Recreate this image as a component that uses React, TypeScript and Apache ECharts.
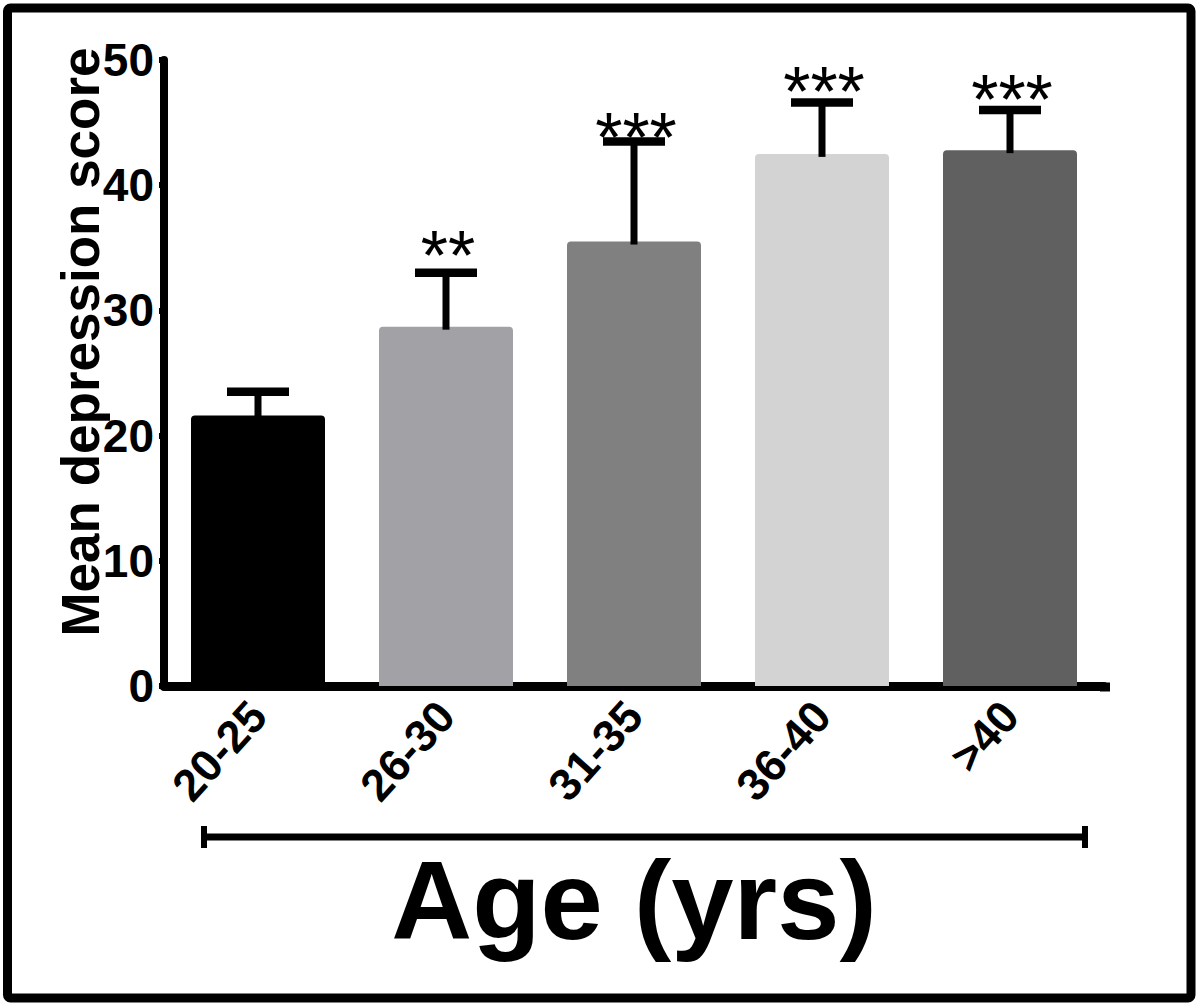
import React, { useEffect, useRef } from "react";
import * as echarts from "echarts";

const categories = ["20-25", "26-30", "31-35", "36-40", ">40"];
const meanScores = [21.6, 28.7, 35.5, 42.5, 42.8];
const errorUpper = [1.9, 4.3, 8.0, 4.1, 3.2];
const significance = ["", "**", "***", "***", "***"];
const starLevels = [0, 34.9, 44.3, 48.0, 47.4];
const barColors = ["#000000", "#a2a1a6", "#808080", "#d3d3d3", "#606060"];
const yMin = 0;
const yMax = 50;
const yStep = 10;

const FONT = '"Liberation Sans", Arial, Helvetica, sans-serif';

export default function App() {
  const ref = useRef<HTMLDivElement>(null);

  useEffect(() => {
    if (!ref.current) return;
    const chart = echarts.init(ref.current, undefined, { renderer: "svg" });

    const errData = categories.map((_, i) => [i, meanScores[i], meanScores[i] + errorUpper[i], starLevels[i]]);
    const starFont = 70;

    const option: any = {
      animation: false,
      backgroundColor: "#ffffff",
      grid: { left: 164, top: 60, width: 940, height: 626, containLabel: false },
      xAxis: {
        type: "category",
        data: categories,
        boundaryGap: true,
        axisLine: { show: true, lineStyle: { color: "#000", width: 9 } },
        axisTick: { show: true, alignWithLabel: true, length: 5, lineStyle: { color: "#000", width: 7 } },
        axisLabel: {
          rotate: 48,
          margin: 22,
          color: "#000",
          fontSize: 45,
          fontWeight: "bold",
          fontFamily: FONT,
        },
        splitLine: { show: false },
      },
      yAxis: {
        type: "value",
        min: yMin,
        max: yMax,
        interval: yStep,
        axisLine: { show: true, lineStyle: { color: "#000", width: 8 } },
        axisTick: { show: true, length: 5, lineStyle: { color: "#000", width: 6 } },
        axisLabel: {
          margin: 10,
          color: "#000",
          fontSize: 46,
          fontWeight: "bold",
          fontFamily: FONT,
        },
        splitLine: { show: false },
      },
      series: [
        {
          type: "bar",
          barWidth: 134,
          data: meanScores.map((v, i) => ({
            value: v,
            itemStyle: { color: barColors[i], borderRadius: [4, 4, 0, 0] },
          })),
          z: 2,
        },
        {
          type: "custom",
          z: 3,
          data: errData,
          renderItem: (params: any, api: any) => {
            const i = api.value(0);
            const top = api.coord([i, api.value(1)]);
            const end = api.coord([i, api.value(2)]);
            const children: any[] = [
              {
                type: "line",
                shape: { x1: top[0], y1: top[1] + 3, x2: end[0], y2: end[1] },
                style: { stroke: "#000", lineWidth: 7 },
              },
              {
                type: "line",
                shape: { x1: end[0] - 31, y1: end[1], x2: end[0] + 31, y2: end[1] },
                style: { stroke: "#000", lineWidth: 8.5 },
              },
            ];
            const label = significance[i];
            if (label) {
              const s = api.coord([i, api.value(3)]);
              children.push({
                type: "text",
                x: s[0] + 2,
                y: s[1] + 0.1 * starFont,
                style: {
                  text: label,
                  fill: "#000",
                  fontSize: starFont,
                  fontFamily: FONT,
                  fontWeight: "normal",
                  align: "center",
                  verticalAlign: "middle",
                  textAlign: "center",
                  textVerticalAlign: "middle",
                },
              });
            }
            return { type: "group", children };
          },
        },
      ],
      graphic: [
        {
          type: "rect",
          shape: { x: 7.5, y: 8, width: 1183.5, height: 990, r: 3 },
          style: { fill: "none", stroke: "#000", lineWidth: 9 },
          silent: true,
        },
        {
          type: "line",
          shape: { x1: 1100, y1: 687, x2: 1110, y2: 687 },
          style: { stroke: "#000", lineWidth: 9 },
          silent: true,
        },
        {
          type: "text",
          x: 80,
          y: 342,
          rotation: Math.PI / 2,
          style: {
            text: "Mean depression score",
            fill: "#000",
            fontSize: 53,
            fontWeight: "bold",
            fontFamily: FONT,
            align: "center",
            verticalAlign: "middle",
            textAlign: "center",
            textVerticalAlign: "middle",
          },
        },
        {
          type: "line",
          shape: { x1: 201, y1: 837, x2: 1088, y2: 837 },
          style: { stroke: "#000", lineWidth: 7 },
        },
        {
          type: "line",
          shape: { x1: 204, y1: 826, x2: 204, y2: 848 },
          style: { stroke: "#000", lineWidth: 6 },
        },
        {
          type: "line",
          shape: { x1: 1085, y1: 826, x2: 1085, y2: 848 },
          style: { stroke: "#000", lineWidth: 6 },
        },
        {
          type: "text",
          x: 634,
          y: 900,
          style: {
            text: "Age (yrs)",
            fill: "#000",
            fontSize: 112,
            fontWeight: "bold",
            fontFamily: FONT,
            align: "center",
            verticalAlign: "middle",
            textAlign: "center",
            textVerticalAlign: "middle",
          },
        },
      ],
    };

    chart.setOption(option);
    return () => chart.dispose();
  }, []);

  return (
    <div
      ref={ref}
      style={{ position: "absolute", left: 0, top: 0, width: 1200, height: 1007, background: "#fff" }}
    />
  );
}
